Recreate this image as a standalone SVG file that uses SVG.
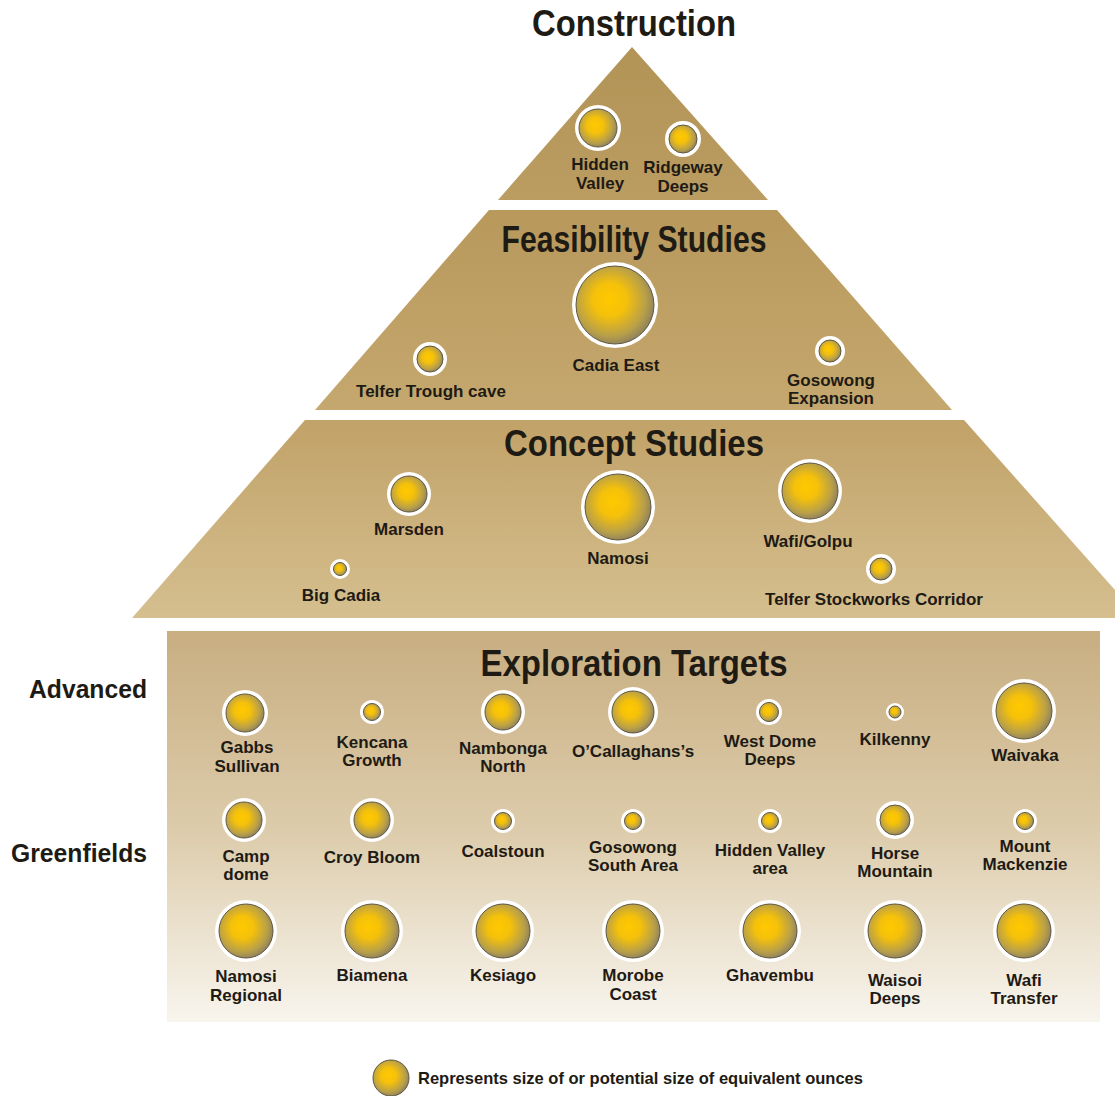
<svg xmlns="http://www.w3.org/2000/svg" width="1115" height="1096" viewBox="0 0 1115 1096">
<defs>
<radialGradient id="gold" cx="0.45" cy="0.45" r="0.6" fx="0.42" fy="0.42">
<stop offset="0" stop-color="#ffc900"/>
<stop offset="0.35" stop-color="#f5c10a"/>
<stop offset="0.75" stop-color="#b9a048"/>
<stop offset="1" stop-color="#857a62"/>
</radialGradient>
<linearGradient id="gCons" x1="0" y1="0" x2="0" y2="1"><stop offset="0" stop-color="#b39457"/><stop offset="1" stop-color="#bb9c61"/></linearGradient>
<linearGradient id="gFeas" x1="0" y1="0" x2="0" y2="1"><stop offset="0" stop-color="#b8985b"/><stop offset="1" stop-color="#c5a86f"/></linearGradient>
<linearGradient id="gConc" x1="0" y1="0" x2="0" y2="1"><stop offset="0" stop-color="#c1a268"/><stop offset="1" stop-color="#d5bf8f"/></linearGradient>
<linearGradient id="gExpl" x1="0" y1="0" x2="0" y2="1"><stop offset="0" stop-color="#c8ae81"/><stop offset="0.5" stop-color="#dccbaa"/><stop offset="1" stop-color="#f8f5ee"/></linearGradient>
<style>
.ring{fill:#ffffff}
.ball{fill:url(#gold);stroke:#5f5640;stroke-width:1}
text{font-family:"Liberation Sans",Arial,sans-serif;font-weight:bold;fill:#1e1a14}
.t{font-size:36px;text-anchor:middle}
.side{font-size:26px;text-anchor:start}
.l{font-size:17px;text-anchor:middle}
</style>
</defs>
<rect width="1115" height="1096" fill="#ffffff"/>

<g id="tiers">
<polygon points="632,47 768,200 498,200" fill="url(#gCons)"/>
<polygon points="489,210 777,210 952,410 315,410" fill="url(#gFeas)"/>
<polygon points="305,420 964,420 1140,618 132,618" fill="url(#gConc)"/>
<rect x="167" y="631" width="933" height="391" fill="url(#gExpl)"/>
</g>

<g id="titles">
<text class="t" x="634" y="36" textLength="204" lengthAdjust="spacingAndGlyphs">Construction</text>
<text class="t" x="634" y="252" font-size="34" textLength="265" lengthAdjust="spacingAndGlyphs">Feasibility Studies</text>
<text class="t" x="634" y="456" textLength="260" lengthAdjust="spacingAndGlyphs">Concept Studies</text>
<text class="t" x="634" y="676" textLength="307" lengthAdjust="spacingAndGlyphs">Exploration Targets</text>
<text class="side" x="29" y="698" textLength="118" lengthAdjust="spacingAndGlyphs">Advanced</text>
<text class="side" x="11" y="862" textLength="136" lengthAdjust="spacingAndGlyphs">Greenfields</text>
</g>

<g id="connectors"/>

<!-- Construction -->
<g id="hidden-valley"><circle class="ring" cx="598" cy="128" r="23"/><circle class="ball" cx="598" cy="128" r="19"/><text class="l" x="600" y="170">Hidden</text><text class="l" x="600" y="189">Valley</text></g>
<g id="ridgeway-deeps"><circle class="ring" cx="683" cy="139" r="18"/><circle class="ball" cx="683" cy="139" r="14"/><text class="l" x="683" y="173">Ridgeway</text><text class="l" x="683" y="192">Deeps</text></g>

<!-- Feasibility -->
<g id="cadia-east"><circle class="ring" cx="615" cy="305" r="43"/><circle class="ball" cx="615" cy="305" r="39"/><text class="l" x="616" y="371">Cadia East</text></g>
<g id="telfer-trough-cave"><circle class="ring" cx="430" cy="359" r="17"/><circle class="ball" cx="430" cy="359" r="13"/><text class="l" x="431" y="397">Telfer Trough cave</text></g>
<g id="gosowong-expansion"><circle class="ring" cx="830" cy="351" r="15"/><circle class="ball" cx="830" cy="351" r="11"/><text class="l" x="831" y="386">Gosowong</text><text class="l" x="831" y="404">Expansion</text></g>

<!-- Concept -->
<g id="marsden"><circle class="ring" cx="409" cy="494" r="22"/><circle class="ball" cx="409" cy="494" r="18"/><text class="l" x="409" y="535">Marsden</text></g>
<g id="namosi"><circle class="ring" cx="618" cy="507" r="37"/><circle class="ball" cx="618" cy="507" r="33"/><text class="l" x="618" y="564">Namosi</text></g>
<g id="wafi-golpu"><circle class="ring" cx="810" cy="491" r="32"/><circle class="ball" cx="810" cy="491" r="28"/><text class="l" x="808" y="547">Wafi/Golpu</text></g>
<g id="big-cadia"><circle class="ring" cx="340" cy="569" r="10"/><circle class="ball" cx="340" cy="569" r="6.5"/><text class="l" x="341" y="601">Big Cadia</text></g>
<g id="telfer-stockworks-corridor"><circle class="ring" cx="881" cy="569" r="15"/><circle class="ball" cx="881" cy="569" r="11"/><text class="l" x="874" y="605">Telfer Stockworks Corridor</text></g>

<!-- Advanced -->
<g id="gabbs-sullivan"><circle class="ring" cx="245" cy="713" r="23"/><circle class="ball" cx="245" cy="713" r="19"/><text class="l" x="247" y="753">Gabbs</text><text class="l" x="247" y="772">Sullivan</text></g>
<g id="kencana-growth"><circle class="ring" cx="372" cy="712" r="12"/><circle class="ball" cx="372" cy="712" r="8.5"/><text class="l" x="372" y="748">Kencana</text><text class="l" x="372" y="766">Growth</text></g>
<g id="nambonga-north"><circle class="ring" cx="503" cy="712" r="22"/><circle class="ball" cx="503" cy="712" r="18"/><text class="l" x="503" y="754">Nambonga</text><text class="l" x="503" y="772">North</text></g>
<g id="ocallaghans"><circle class="ring" cx="633" cy="712" r="25"/><circle class="ball" cx="633" cy="712" r="21"/><text class="l" x="633" y="757">O’Callaghans’s</text></g>
<g id="west-dome-deeps"><circle class="ring" cx="769" cy="712" r="13"/><circle class="ball" cx="769" cy="712" r="9.5"/><text class="l" x="770" y="747">West Dome</text><text class="l" x="770" y="765">Deeps</text></g>
<g id="kilkenny"><circle class="ring" cx="895" cy="712" r="9"/><circle class="ball" cx="895" cy="712" r="6"/><text class="l" x="895" y="745">Kilkenny</text></g>
<g id="waivaka"><circle class="ring" cx="1024" cy="711" r="32"/><circle class="ball" cx="1024" cy="711" r="28"/><text class="l" x="1025" y="761">Waivaka</text></g>

<!-- Greenfields -->
<g id="camp-dome"><circle class="ring" cx="244" cy="820" r="22"/><circle class="ball" cx="244" cy="820" r="18"/><text class="l" x="246" y="862">Camp</text><text class="l" x="246" y="880">dome</text></g>
<g id="croy-bloom"><circle class="ring" cx="372" cy="820" r="22"/><circle class="ball" cx="372" cy="820" r="18"/><text class="l" x="372" y="863">Croy Bloom</text></g>
<g id="coalstoun"><circle class="ring" cx="503" cy="821" r="12"/><circle class="ball" cx="503" cy="821" r="8.5"/><text class="l" x="503" y="857">Coalstoun</text></g>
<g id="gosowong-south-area"><circle class="ring" cx="633" cy="821" r="12"/><circle class="ball" cx="633" cy="821" r="8.5"/><text class="l" x="633" y="853">Gosowong</text><text class="l" x="633" y="871">South Area</text></g>
<g id="hidden-valley-area"><circle class="ring" cx="770" cy="821" r="12"/><circle class="ball" cx="770" cy="821" r="8.5"/><text class="l" x="770" y="856">Hidden Valley</text><text class="l" x="770" y="874">area</text></g>
<g id="horse-mountain"><circle class="ring" cx="895" cy="820" r="19"/><circle class="ball" cx="895" cy="820" r="15"/><text class="l" x="895" y="859">Horse</text><text class="l" x="895" y="877">Mountain</text></g>
<g id="mount-mackenzie"><circle class="ring" cx="1025" cy="821" r="12"/><circle class="ball" cx="1025" cy="821" r="8.5"/><text class="l" x="1025" y="852">Mount</text><text class="l" x="1025" y="870">Mackenzie</text></g>

<!-- Bottom row -->
<g id="namosi-regional"><circle class="ring" cx="246" cy="931" r="31"/><circle class="ball" cx="246" cy="931" r="27"/><text class="l" x="246" y="982">Namosi</text><text class="l" x="246" y="1001">Regional</text></g>
<g id="biamena"><circle class="ring" cx="372" cy="931" r="31"/><circle class="ball" cx="372" cy="931" r="27"/><text class="l" x="372" y="981">Biamena</text></g>
<g id="kesiago"><circle class="ring" cx="503" cy="931" r="31"/><circle class="ball" cx="503" cy="931" r="27"/><text class="l" x="503" y="981">Kesiago</text></g>
<g id="morobe-coast"><circle class="ring" cx="633" cy="931" r="31"/><circle class="ball" cx="633" cy="931" r="27"/><text class="l" x="633" y="981">Morobe</text><text class="l" x="633" y="1000">Coast</text></g>
<g id="ghavembu"><circle class="ring" cx="770" cy="931" r="31"/><circle class="ball" cx="770" cy="931" r="27"/><text class="l" x="770" y="981">Ghavembu</text></g>
<g id="waisoi-deeps"><circle class="ring" cx="895" cy="931" r="31"/><circle class="ball" cx="895" cy="931" r="27"/><text class="l" x="895" y="986">Waisoi</text><text class="l" x="895" y="1004">Deeps</text></g>
<g id="wafi-transfer"><circle class="ring" cx="1024" cy="931" r="31"/><circle class="ball" cx="1024" cy="931" r="27"/><text class="l" x="1024" y="986">Wafi</text><text class="l" x="1024" y="1004">Transfer</text></g>

<g id="legend"><circle class="ball" cx="391" cy="1078" r="18"/><text x="418" y="1084" font-size="17" textLength="445" lengthAdjust="spacingAndGlyphs">Represents size of or potential size of equivalent ounces</text></g>
</svg>
